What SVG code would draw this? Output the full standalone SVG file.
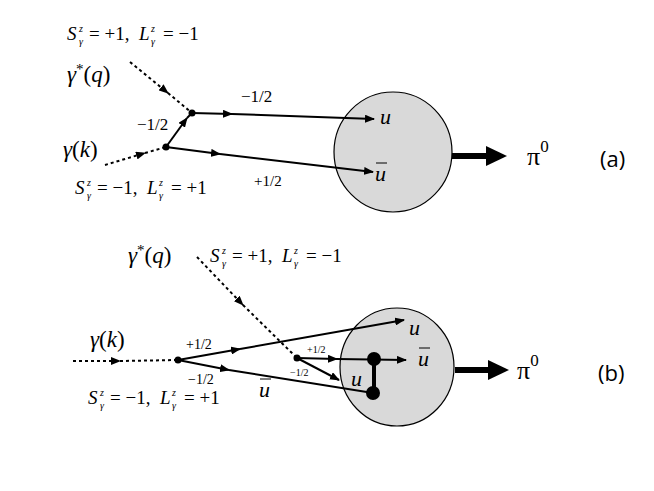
<svg xmlns="http://www.w3.org/2000/svg" width="654" height="491" viewBox="0 0 654 491">
<style>
.m{font-family:"Liberation Serif","DejaVu Serif",serif;fill:#000}
.i{font-style:italic}
.s{font-family:"Open Sans","Liberation Sans",sans-serif;fill:#000}
.d{stroke:#000;stroke-width:2;stroke-dasharray:3,3;fill:none}
.f{stroke:#000;stroke-width:2;fill:none}
.blob{fill:#d9d9d9;stroke:#000;stroke-width:1.2}
.big{font-size:19px}
.sm{font-size:10px;font-style:italic}
</style>
<defs>
<marker id="ar" markerWidth="10" markerHeight="8" refX="9" refY="4" orient="auto" markerUnits="userSpaceOnUse"><path d="M0,0 L10,4 L0,8 Z" fill="#000"/></marker>
</defs>
<rect width="654" height="491" fill="#fff"/>
<g id="panel-a">
<g id="hadron-a"><ellipse class="blob" cx="393" cy="152" rx="59" ry="60"/></g>
<g id="connectors-a">
<line class="d" x1="130" y1="62" x2="168" y2="93" marker-end="url(#ar)"/>
<line class="d" x1="168" y1="93" x2="192" y2="113"/>
<line class="d" x1="105" y1="165" x2="145" y2="153" marker-end="url(#ar)"/>
<line class="d" x1="145" y1="153" x2="166" y2="147"/>
<line class="f" x1="166" y1="147" x2="187" y2="118" marker-end="url(#ar)"/>
<line class="f" x1="187" y1="118" x2="192" y2="113"/>
<line class="f" x1="192" y1="113" x2="232" y2="114" marker-end="url(#ar)"/>
<line class="f" x1="232" y1="114" x2="374" y2="119" marker-end="url(#ar)"/>
<line class="f" x1="166" y1="147" x2="220" y2="154" marker-end="url(#ar)"/>
<line class="f" x1="220" y1="154" x2="373" y2="172" marker-end="url(#ar)"/>
<circle cx="192" cy="113" r="3.5"/><circle cx="166" cy="147" r="3.5"/>
<line x1="452" y1="156" x2="488" y2="156" stroke="#000" stroke-width="6"/>
<path d="M486,146 L507,156 L486,166 Z"/>
</g>
<g id="labels-a">
<g transform="translate(67,40)">
<text class="m i big" x="0" y="0">S</text><text class="m sm" x="12" y="-8">z</text><text class="m sm" x="12" y="5">γ</text>
<text class="m big" x="22" y="0">= +1,</text><text class="m i big" x="72" y="0">L</text><text class="m sm" x="84" y="-8">z</text><text class="m sm" x="84" y="5">γ</text><text class="m big" x="96" y="0">= −1</text>
</g>
<text class="m" x="67" y="82" font-size="23"><tspan class="i">γ</tspan><tspan font-size="15" dy="-8">*</tspan><tspan dy="8">(</tspan><tspan class="i">q</tspan>)</text>
<text class="m" x="241" y="102" font-size="17">−1/2</text>
<text class="m" x="137" y="130" font-size="17">−1/2</text>
<text class="m" x="63" y="157" font-size="23"><tspan class="i">γ</tspan>(<tspan class="i">k</tspan>)</text>
<g transform="translate(75,194)">
<text class="m i big" x="0" y="0">S</text><text class="m sm" x="12" y="-8">z</text><text class="m sm" x="12" y="5">γ</text>
<text class="m big" x="22" y="0">= −1,</text><text class="m i big" x="72" y="0">L</text><text class="m sm" x="84" y="-8">z</text><text class="m sm" x="84" y="5">γ</text><text class="m big" x="96" y="0">= +1</text>
</g>
<text class="m" x="254" y="186" font-size="15">+1/2</text>
<text class="m i" x="380" y="124" font-size="22">u</text>
<text class="m i" x="375" y="181" font-size="22">u</text>
<line x1="376" y1="163" x2="387" y2="163" stroke="#000" stroke-width="1"/>
<text class="m" x="527" y="165" font-size="26">π<tspan font-size="17" dy="-13">0</tspan></text>
<text class="s" x="600" y="167" font-size="22">(a)</text>
</g>
</g>
<g id="panel-b">
<g id="hadron-b"><ellipse class="blob" cx="397" cy="367" rx="57" ry="59"/></g>
<g id="connectors-b">
<line class="d" x1="197" y1="257" x2="243" y2="305" marker-end="url(#ar)"/>
<line class="d" x1="243" y1="305" x2="297" y2="358"/>
<line class="d" x1="73" y1="361" x2="120" y2="361" marker-end="url(#ar)"/>
<line class="d" x1="120" y1="361" x2="178" y2="360"/>
<line class="f" x1="178" y1="360" x2="240" y2="349" marker-end="url(#ar)"/>
<line class="f" x1="240" y1="349" x2="404" y2="320" marker-end="url(#ar)"/>
<line class="f" x1="178" y1="360" x2="229" y2="370" marker-end="url(#ar)"/>
<line class="f" x1="229" y1="370" x2="373" y2="393"/>
<line class="f" x1="297" y1="358" x2="337" y2="359" marker-end="url(#ar)"/>
<line class="f" x1="337" y1="359" x2="406" y2="360" marker-end="url(#ar)"/>
<line class="f" x1="297" y1="358" x2="339" y2="380" marker-end="url(#ar)"/>
<line x1="374" y1="359" x2="374" y2="393" stroke="#000" stroke-width="4"/>
<circle cx="374" cy="359" r="7"/><circle cx="373" cy="393" r="7"/>
<circle cx="178" cy="360" r="3.5"/><circle cx="297" cy="358" r="3.5"/>
<line x1="455" y1="370" x2="490" y2="370" stroke="#000" stroke-width="6"/>
<path d="M488,360 L509,370 L488,380 Z"/>
</g>
<g id="labels-b">
<text class="m" x="128" y="263" font-size="23"><tspan class="i">γ</tspan><tspan font-size="15" dy="-8">*</tspan><tspan dy="8">(</tspan><tspan class="i">q</tspan>)</text>
<g transform="translate(210,262)">
<text class="m i big" x="0" y="0">S</text><text class="m sm" x="12" y="-8">z</text><text class="m sm" x="12" y="5">γ</text>
<text class="m big" x="22" y="0">= +1,</text><text class="m i big" x="72" y="0">L</text><text class="m sm" x="84" y="-8">z</text><text class="m sm" x="84" y="5">γ</text><text class="m big" x="96" y="0">= −1</text>
</g>
<text class="m" x="90" y="347" font-size="23"><tspan class="i">γ</tspan>(<tspan class="i">k</tspan>)</text>
<text class="m" x="186" y="349" font-size="14">+1/2</text>
<text class="m" x="188" y="384" font-size="14">−1/2</text>
<g transform="translate(88,404)">
<text class="m i big" x="0" y="0">S</text><text class="m sm" x="12" y="-8">z</text><text class="m sm" x="12" y="5">γ</text>
<text class="m big" x="22" y="0">= −1,</text><text class="m i big" x="72" y="0">L</text><text class="m sm" x="84" y="-8">z</text><text class="m sm" x="84" y="5">γ</text><text class="m big" x="96" y="0">= +1</text>
</g>
<text class="m i" x="259" y="397" font-size="22">u</text>
<line x1="260" y1="379" x2="271" y2="379" stroke="#000" stroke-width="1"/>
<text class="m" x="307" y="353" font-size="10">+1/2</text>
<text class="m" x="290" y="376" font-size="10">−1/2</text>
<text class="m i" x="409" y="335" font-size="22">u</text>
<text class="m i" x="418" y="366" font-size="22">u</text>
<line x1="419" y1="348" x2="430" y2="348" stroke="#000" stroke-width="1"/>
<text class="m i" x="351" y="386" font-size="22">u</text>
<text class="m" x="517" y="379" font-size="26">π<tspan font-size="17" dy="-13">0</tspan></text>
<text class="s" x="598" y="381" font-size="22">(b)</text>
</g>
</g>
</svg>
